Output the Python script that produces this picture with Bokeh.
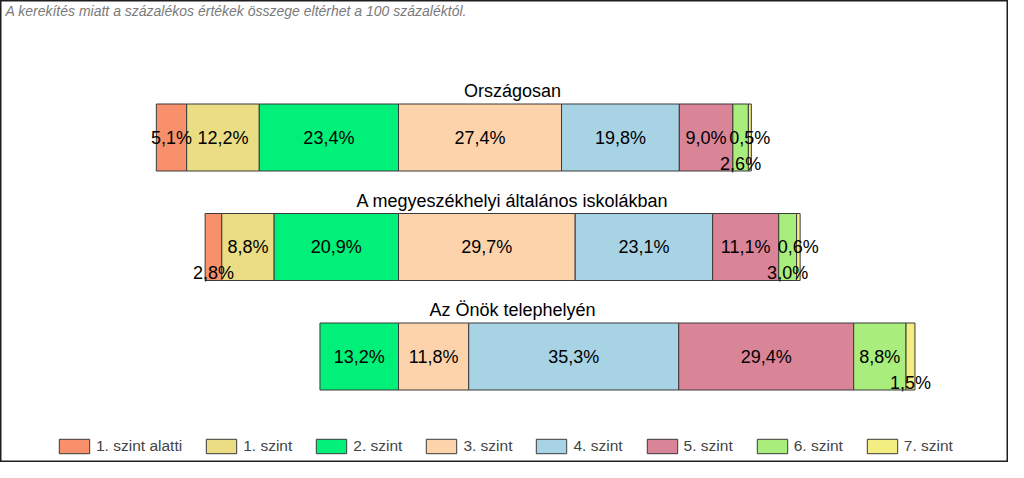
from bokeh.plotting import figure
from bokeh.models import ColumnDataSource, Legend, LegendItem, Label, Range1d
from bokeh.embed import file_html
from bokeh.resources import INLINE
from bokeh.core.properties import value

# ---------------- data ----------------
groups = ["Országosan", "A megyeszékhelyi általános iskolákban", "Az Önök telephelyén"]
levels = ["1. szint alatti", "1. szint", "2. szint", "3. szint",
          "4. szint", "5. szint", "6. szint", "7. szint"]
orszagos = [5.1, 12.2, 23.4, 27.4, 19.8, 9.0, 2.6, 0.5]
megyeszekhely = [2.8, 8.8, 20.9, 29.7, 23.1, 11.1, 3.0, 0.6]
telephely = [0.0, 0.0, 13.2, 11.8, 35.3, 29.4, 8.8, 1.5]
series = [orszagos, megyeszekhely, telephely]
note = "A kerekítés miatt a  százalékos értékek összege eltérhet a 100 százaléktól."

# ---------------- style ----------------
colors = ["#F8906B", "#EADD84", "#00F07A", "#FDD3AC",
          "#A8D3E5", "#DA8498", "#A9EE7C", "#F2EE82"]
lowered = {(0, 6), (1, 0), (1, 6), (2, 7)}   # labels pushed below to avoid overlap
split_after = 3                               # levels below "3. szint" go left of 0

W, H = 1008, 462
zero_px = 398
px_per_pct = 5.95
first_center_px = 137
group_gap_px = 109.5
bar_px = 67
FONT = "Liberation Sans"

p = figure(width=W, height=H, output_backend="svg", toolbar_location=None,
           x_range=Range1d(-zero_px / px_per_pct, (W - zero_px) / px_per_pct),
           y_range=Range1d((H - first_center_px) / group_gap_px, -first_center_px / group_gap_px),
           x_axis_location=None, y_axis_location=None, min_border=0)
p.grid.visible = False
p.outline_line_color = "#1e1e1e"
p.outline_line_width = 2
p.background_fill_color = "white"
p.border_fill_color = "white"

bar_h = bar_px / group_gap_px

lbl = dict(x=[], y=[], txt=[], yoff=[])
items = []
per_level = {i: dict(y=[], left=[], right=[]) for i in range(len(levels))}
for g, vals in enumerate(series):
    start = -sum(vals[:split_after])
    for i, v in enumerate(vals):
        left, right = start, start + v
        start = right
        if v <= 0:
            continue
        per_level[i]["y"].append(g)
        per_level[i]["left"].append(left)
        per_level[i]["right"].append(right)
        lbl["x"].append((left + right) / 2)
        lbl["y"].append(g)
        lbl["txt"].append(f"{v:.1f}".replace(".", ",") + "%")
        lbl["yoff"].append(26 if (g, i) in lowered else 0)

for i, name in enumerate(levels):
    r = p.hbar(y="y", left="left", right="right", height=bar_h,
               source=ColumnDataSource(per_level[i]),
               fill_color=colors[i], line_color="#3a3a3a", line_width=1)
    items.append(LegendItem(label=name, renderers=[r]))

p.text(x="x", y="y", text="txt", y_offset="yoff", source=ColumnDataSource(lbl),
       text_align="center", text_baseline="middle",
       text_font=value(FONT), text_font_size="18px", text_color="black")

title_x = (512 - zero_px) / px_per_pct
p.text(x=[title_x] * len(groups), y=list(range(len(groups))), text=groups,
       y_offset=-(bar_px / 2 + 13), text_align="center", text_baseline="middle",
       text_font=value(FONT), text_font_size="18px", text_color="black")

p.add_layout(Label(x=5, y=H - 2, x_units="screen", y_units="screen", text=note,
                   text_baseline="top", text_align="left", text_font=FONT,
                   text_font_style="italic", text_font_size="14px", text_color="#7a7a7a"))

legend = Legend(items=items, orientation="horizontal", location=(55, 7),
                glyph_width=38, glyph_height=18, label_standoff=3, spacing=20,
                padding=0, margin=0, border_line_color=None, background_fill_alpha=0,
                label_text_font=FONT, label_text_font_size="15.5px", label_height=18,
                label_text_baseline="middle")
p.add_layout(legend)

open("out.html", "w").write(file_html(p, INLINE))
